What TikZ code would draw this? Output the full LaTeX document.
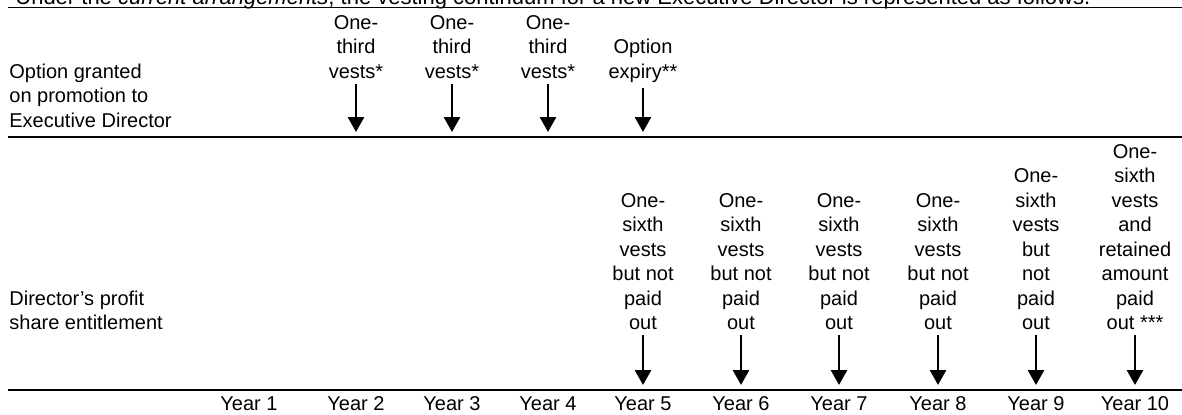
\documentclass[tikz,border=0pt]{standalone}
\usepackage{fontspec}
\setmainfont{Liberation Sans}
\usetikzlibrary{arrows.meta}

\begin{document}
\begin{tikzpicture}[x=0.5pt,y=-0.5pt,
  txt/.style={font=\fontsize{10}{12.25}\selectfont,inner sep=0pt},
  col/.style={txt,align=center,anchor=base},
  lbl/.style={txt,align=left,anchor=base west},
  rule/.style={line width=0.8pt},
  down/.style={line width=1.3pt,shorten <=2.5pt,-{Triangle[width=8pt,length=7.5pt]}}]
\useasboundingbox (0,0) rectangle (1182,414);

% caption and rules
\node[lbl,font=\fontsize{11}{13}\selectfont] (cap) at (15,4.5) {Under the \textit{current arrangements}, the vesting continuum for a new Executive Director is represented as follows.};
\coordinate (r1a) at (8,7.5);   \coordinate (r1b) at (1182,7.5);
\coordinate (r2a) at (8,137);   \coordinate (r2b) at (1182,137);
\coordinate (r3a) at (8,390);   \coordinate (r3b) at (1182,390);
\draw[rule] (r1a) -- (r1b);
\draw[rule] (r2a) -- (r2b);
\draw[rule] (r3a) -- (r3b);

% years
\foreach \i/\x in {1/249,2/356,3/452,4/548,5/643,6/741,7/839,8/938,9/1036,10/1135}
  \node[col] (y\i) at (\x,410) {Year \i};

% option row (base = last line)
\node[lbl] (optlbl) at (9,127) {Option granted\\on promotion to\\Executive Director};
\foreach \i/\x in {2/356,3/452,4/548}{
  \node[col] (o\i) at (\x,78) {One-\\third\\vests*};
  \coordinate (ot\i) at (\x,132);
  \draw[down] (o\i.south) -- (ot\i);
}
\node[col] (o5) at (643,78) {Option\\expiry**};
\coordinate (ot5) at (643,132);
\draw[down] (o5.south) -- (ot5);

% profit share row
\node[lbl] (psLbl) at (9,329.5) {Director’s profit\\share entitlement};
\foreach \i/\x in {5/643,6/741,7/839,8/938}{
  \node[col] (p\i) at (\x,329.5) {One-\\sixth\\vests\\but not\\paid\\out};
  \coordinate (pt\i) at (\x,385);
  \draw[down] (p\i.south) -- (pt\i);
}
\node[col] (p9) at (1036,329.5) {One-\\sixth\\vests\\but\\not\\paid\\out};
\coordinate (pt9) at (1036,385);
\draw[down] (p9.south) -- (pt9);
\node[col] (p10) at (1135,329.5) {One-\\sixth\\vests\\and\\retained\\amount\\paid\\out ***};
\coordinate (pt10) at (1135,385);
\draw[down] (p10.south) -- (pt10);
\end{tikzpicture}
\end{document}
